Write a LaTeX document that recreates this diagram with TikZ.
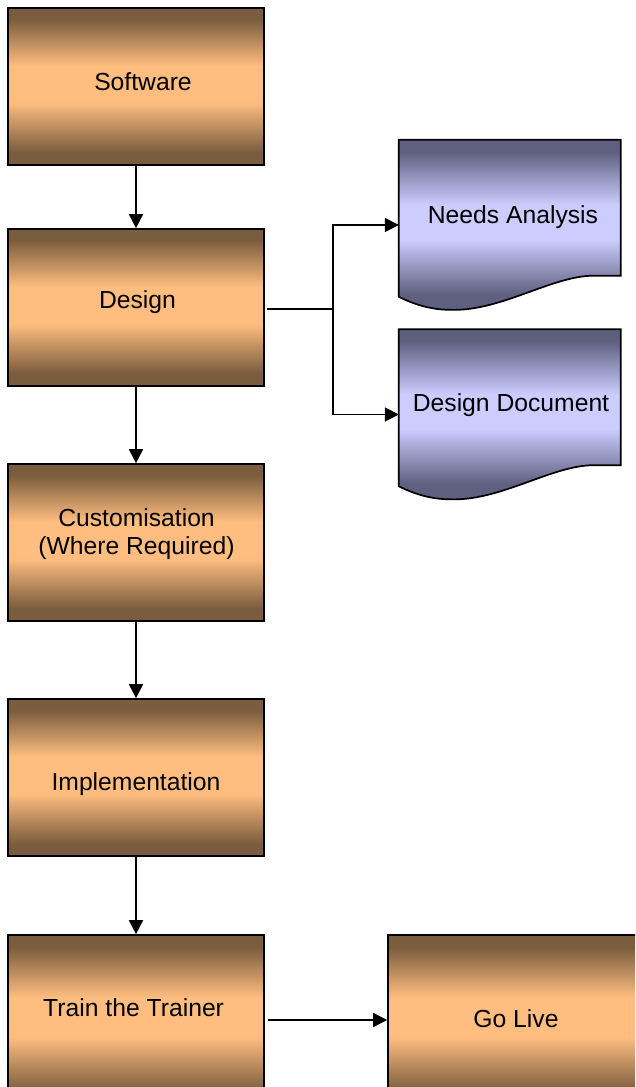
\documentclass[tikz,border=0pt]{standalone}
\usepackage{fontspec}
\setmainfont{Liberation Sans}
\usetikzlibrary{arrows.meta}

\definecolor{brdark}{RGB}{122,92,62}
\definecolor{brlight}{RGB}{255,190,128}
\definecolor{bldark}{RGB}{95,95,128}
\definecolor{bllight}{RGB}{204,204,255}

% dark at the top and bottom edges, light band across the middle
\pgfdeclareverticalshading{stepshade}{100bp}{color(0bp)=(brdark); color(25bp)=(brdark); color(29bp)=(brdark); color(37bp)=(brdark!50!brlight); color(45bp)=(brlight); color(56.5bp)=(brlight); color(64bp)=(brdark!50!brlight); color(71.5bp)=(brdark); color(100bp)=(brdark)}
\pgfdeclareverticalshading{docshade}{100bp}{color(0bp)=(bldark); color(25bp)=(bldark); color(30bp)=(bldark); color(38bp)=(bldark!50!bllight); color(46bp)=(bllight); color(56bp)=(bllight); color(64bp)=(bldark!50!bllight); color(71.5bp)=(bldark); color(100bp)=(bldark)}

\tikzset{
  stepbox/.style={rectangle, draw=black, line width=1.7pt, shading=stepshade,
    minimum width=256pt, minimum height=157pt, inner sep=0pt},
  docarea/.style={rectangle, draw=none, minimum width=222pt, minimum height=170pt, inner sep=0pt},
  docline/.style={draw=black, line width=1.7pt, shading=docshade},
  txt/.style={font=\fontsize{24.7}{27.5}\selectfont, anchor=base, inner sep=0pt},
  link/.style={line width=1.8pt},
  arr/.style={link, -{Triangle[length=14pt,width=14pt]}}
}

\begin{document}
\begin{tikzpicture}[x=1pt,y=-1pt]
\useasboundingbox (0,0) rectangle (635,1087);
\clip (0,0) rectangle (635,1087);

% process steps
\node[stepbox] (software) at (136,86.5) {};
\node[stepbox] (design) at (136,307.5) {};
\node[stepbox] (custom) at (136,542.5) {};
\node[stepbox] (impl) at (136,777.5) {};
\node[stepbox, minimum height=170pt] (train) at (136,1020) {};
\node[stepbox, minimum height=170pt] (golive) at (516,1020) {};

% documents produced by the design step
\node[docarea] (needs) at (510,225) {};
\node[docarea] (ddoc) at (510,414.5) {};
\foreach \d in {needs,ddoc}{
  \begin{scope}[shift={(\d.north west)}]
    \path[docline] (0,0) -- (222,0) -- (222,136) -- (191,136)
      .. controls (150,138) and (100,172) .. (51,170)
      .. controls (30,170) and (12,163) .. (0,157) -- cycle;
  \end{scope}
}

% labels
\node[txt] (t-software) at (143,90.5) {Software};
\node[txt] (t-design) at (137.5,308) {Design};
\node[txt, align=center] (t-custom) at (136.5,554) {Customisation\\(Where Required)};
\node[txt] (t-impl) at (136,790) {Implementation};
\node[txt] (t-train) at (133.6,1016) {Train the Trainer};
\node[txt] (t-golive) at (516,1027) {Go Live};
\node[txt] (t-needs) at (513,223.3) {Needs Analysis};
\node[txt] (t-ddoc) at (511,411.7) {Design Document};

% connectors
\draw[arr] (software) -- (design);
\draw[arr] (design) -- (custom);
\draw[arr] (custom) -- (impl);
\draw[arr] (impl) -- (train);
\coordinate (split) at (333,309);
\draw[link, shorten <=2pt] ([yshift=-1.5pt]design.east) -- (split);
\draw[arr] (split) |- (needs.west);
\draw[arr] (split) |- (ddoc.west);
\draw[arr, shorten <=3pt] (train.east) -- (golive.west);
\end{tikzpicture}
\end{document}
